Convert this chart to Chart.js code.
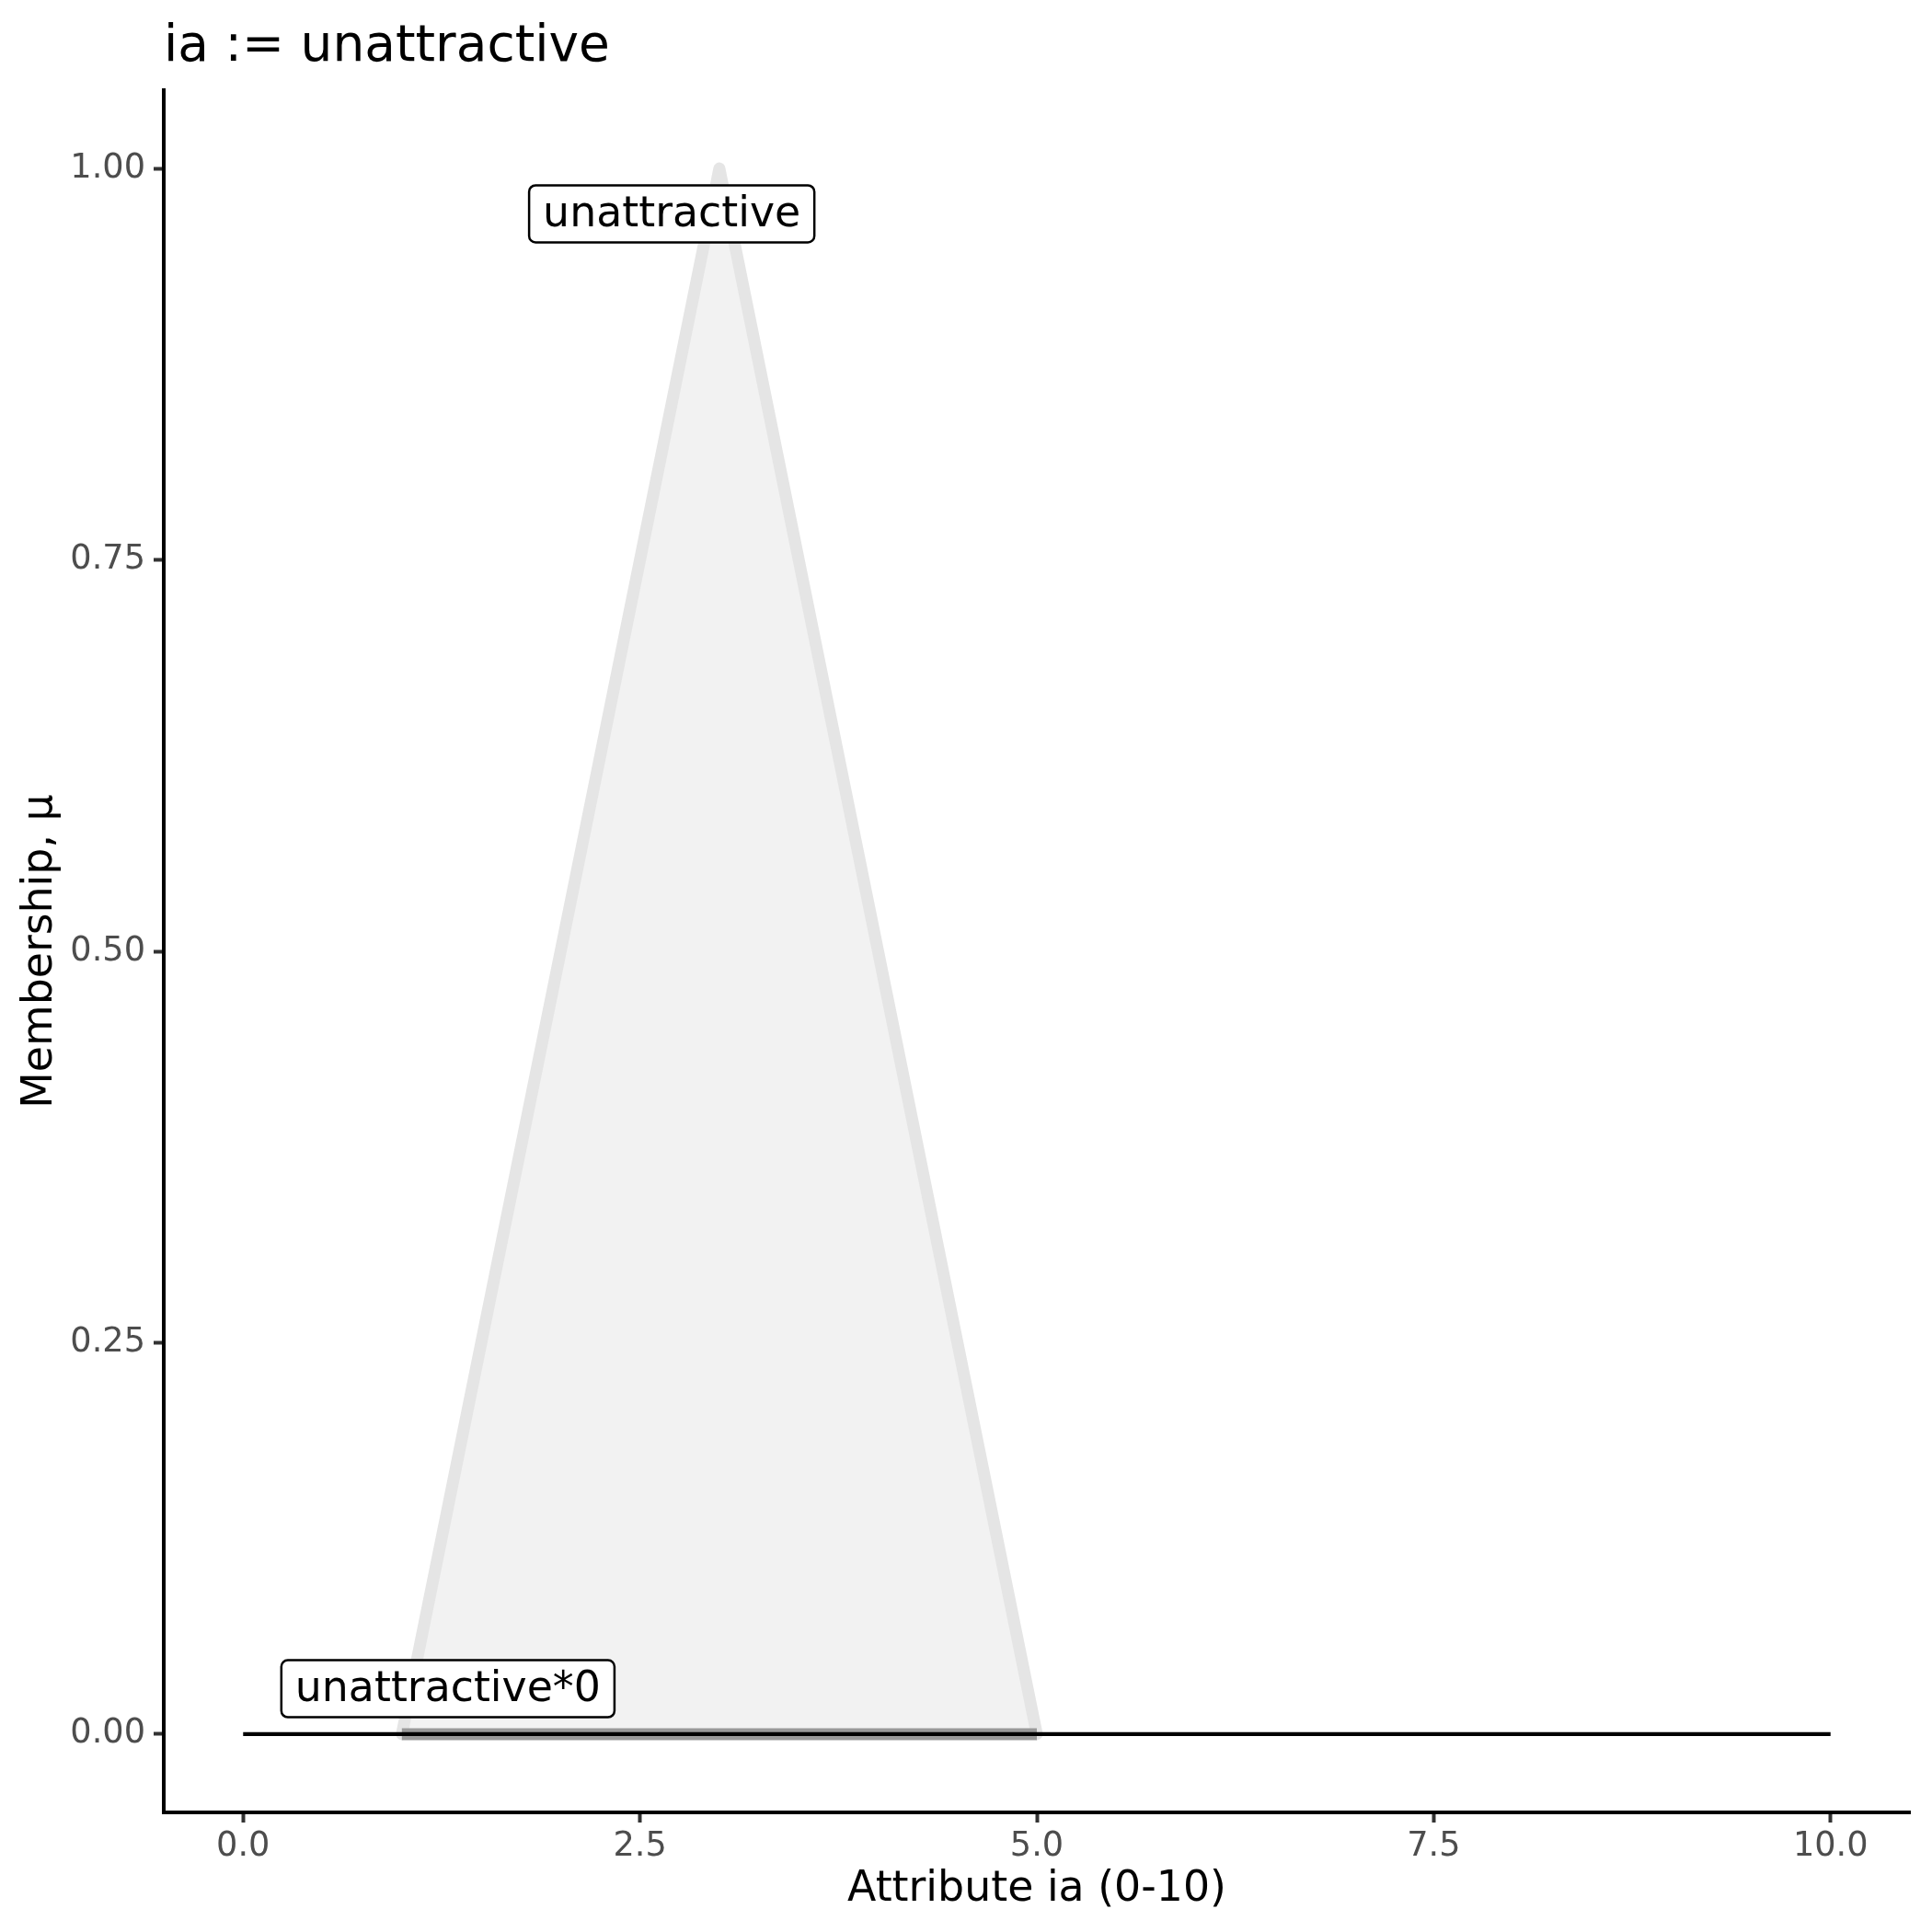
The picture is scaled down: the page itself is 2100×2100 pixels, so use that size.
<!DOCTYPE html>
<html>
<head>
<meta charset="utf-8">
<script src="https://cdn.jsdelivr.net/npm/chart.js@4"></script>
<style>
  html, body { margin: 0; padding: 0; background: #fff; }
  #wrap { width: 2100px; height: 2100px; }
</style>
</head>
<body>
<div id="wrap"><canvas id="chart" width="2100" height="2100"></canvas></div>
<script>
// ---- DATA ----
const chartTitle = "ia := unattractive";
const xTitle = "Attribute ia (0-10)";
const yTitle = "Membership, \u03bc";

// membership function "unattractive" (triangle)
const setX = [1, 3, 5];
const setY = [0, 1, 0];

// consequent scaled by 0 (flat at zero)
const resultX = [1, 5];
const resultY = [0, 0];

// horizontal base line
const baseX = [0, 10];
const baseY = [0, 0];

// labels
const labelText = ["unattractive", "unattractive*0"];
const labelX = [2.7, 1.29];
const labelY = [0.971, 0.029];

const xTicks = [0, 2.5, 5, 7.5, 10];
const yTicks = [0, 0.25, 0.5, 0.75, 1];

const FONT = "DejaVu Sans";

function pts(xs, ys) {
  return xs.map((x, i) => ({ x: x, y: ys[i] }));
}

// title + boxed labels drawn on top
const annotate = {
  id: "annotate",
  afterDatasetsDraw(chart) {
    const ctx = chart.ctx;
    const xs = chart.scales.x, ys = chart.scales.y;
    ctx.save();
    ctx.font = `45.8px "${FONT}"`;
    labelText.forEach((t, i) => {
      const px = xs.getPixelForValue(labelX[i]);
      const py = ys.getPixelForValue(labelY[i]);
      const w = ctx.measureText(t).width + 30;
      const h = 62;
      ctx.beginPath();
      ctx.roundRect(px - w / 2, py - h / 2, w, h, 7);
      ctx.fillStyle = "#fff";
      ctx.fill();
      ctx.lineWidth = 2.5;
      ctx.strokeStyle = "#000";
      ctx.stroke();
      ctx.fillStyle = "#000";
      ctx.textAlign = "center";
      ctx.textBaseline = "middle";
      ctx.fillText(t, px, py + 2);
    });
    ctx.restore();
  },
  afterDraw(chart) {
    const ctx = chart.ctx;
    ctx.save();
    ctx.font = `55px "${FONT}"`;
    ctx.fillStyle = "#000";
    ctx.textAlign = "left";
    ctx.textBaseline = "alphabetic";
    ctx.fillText(chartTitle, chart.chartArea.left, 66);
    ctx.restore();
  }
};

const ctx = document.getElementById("chart").getContext("2d");

new Chart(ctx, {
  type: "scatter",
  data: {
    datasets: [
      {
        label: "base",
        data: pts(baseX, baseY),
        showLine: true,
        borderColor: "#000",
        borderWidth: 4.4,
        borderCapStyle: "butt",
        pointRadius: 0,
        fill: false,
        order: 0
      },
      {
        label: "result",
        data: pts(resultX, resultY),
        showLine: true,
        borderColor: "#999999",
        borderWidth: 13,
        borderCapStyle: "butt",
        pointRadius: 0,
        fill: false,
        order: 1
      },
      {
        label: "unattractive",
        data: pts(setX, setY),
        showLine: true,
        borderColor: "#e5e5e5",
        backgroundColor: "#f2f2f2",
        borderWidth: 13,
        borderJoinStyle: "round",
        borderCapStyle: "round",
        pointRadius: 0,
        fill: { target: { value: 0 }, above: "#f2f2f2", below: "#f2f2f2" },
        order: 2
      }
    ]
  },
  options: {
    responsive: false,
    animation: false,
    layout: { padding: { top: 98, right: 24, left: 0, bottom: 0 } },
    plugins: {
      legend: { display: false },
      tooltip: { enabled: false },
      title: { display: false },
      filler: { propagate: false }
    },
    scales: {
      x: {
        type: "linear",
        min: -0.5,
        max: 10.5,
        afterBuildTicks: s => { s.ticks = xTicks.map(v => ({ value: v })); },
        afterFit: s => { s.height = 130; },
        grid: {
          display: true,
          drawOnChartArea: false,
          drawTicks: true,
          tickLength: 11,
          tickColor: "#333333",
          tickWidth: 4
        },
        border: { display: true, color: "#000", width: 4 },
        ticks: {
          color: "#4d4d4d",
          font: { family: FONT, size: 36.7 },
          padding: 4,
          maxRotation: 0,
          callback: v => Number(v).toFixed(1)
        },
        title: {
          display: true,
          text: xTitle,
          color: "#000",
          font: { family: FONT, size: 45.8 },
          padding: { top: 0, bottom: 18 }
        }
      },
      y: {
        type: "linear",
        min: -0.05,
        max: 1.05,
        afterBuildTicks: s => { s.ticks = yTicks.map(v => ({ value: v })); },
        afterFit: s => { s.width = 178; },
        grid: {
          display: true,
          drawOnChartArea: false,
          drawTicks: true,
          tickLength: 11,
          tickColor: "#333333",
          tickWidth: 4
        },
        border: { display: true, color: "#000", width: 4 },
        ticks: {
          color: "#4d4d4d",
          font: { family: FONT, size: 36.7 },
          padding: 9,
          callback: v => Number(v).toFixed(2)
        },
        title: {
          display: true,
          text: yTitle,
          color: "#000",
          font: { family: FONT, size: 45.8 },
          padding: { top: 17, bottom: 0 }
        }
      }
    }
  },
  plugins: [annotate]
});
</script>
</body>
</html>
